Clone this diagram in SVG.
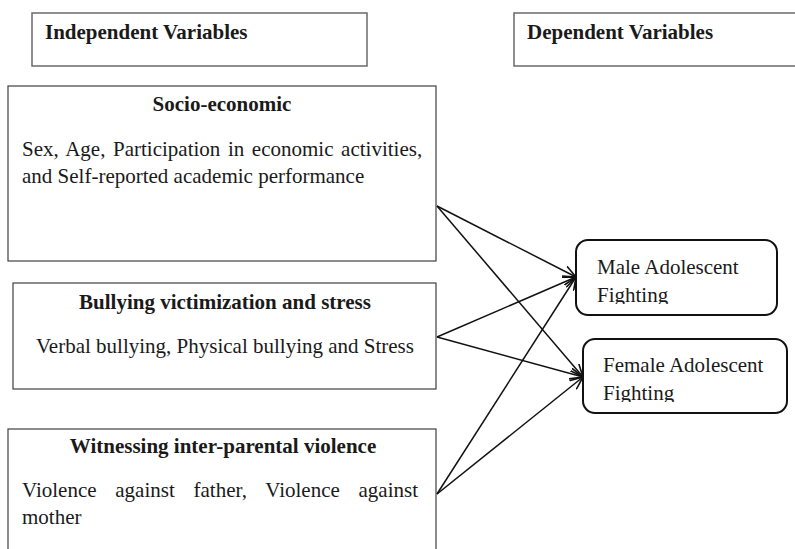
<svg xmlns="http://www.w3.org/2000/svg" width="795" height="549" viewBox="0 0 795 549">
<style>
.t{font-family:"Liberation Serif","Times New Roman",serif;font-size:21px;fill:#1a1a1a}
.b{font-weight:bold}
.box{fill:#fff;stroke:#404040;stroke-width:1.2}
.hdr{fill:#fff;stroke:#6a6a6a;stroke-width:1.5}
.rbox{fill:#fff;stroke:#111;stroke-width:2}
.con{stroke:#111;stroke-width:1.5;fill:none;marker-end:url(#arr)}
</style>
<defs>
<marker id="arr" viewBox="0 0 14 12" refX="13" refY="6" markerWidth="14" markerHeight="12" markerUnits="userSpaceOnUse" orient="auto">
<path d="M0,0.5 L13,6 L0,11.5" fill="none" stroke="#111" stroke-width="1.6"/>
</marker>
<clipPath id="cm"><rect x="576" y="240" width="201" height="64"/></clipPath>
<clipPath id="cf"><rect x="583" y="339" width="204" height="63"/></clipPath>
</defs>
<rect width="795" height="549" fill="#fff"/>
<g id="hdr-independent">
<rect class="hdr" x="32" y="13" width="335" height="53"/>
<text class="t b" x="45" y="39">Independent Variables</text>
</g>
<g id="hdr-dependent">
<rect class="hdr" x="514" y="13" width="290" height="53"/>
<text class="t b" x="527" y="39">Dependent Variables</text>
</g>
<g id="socio">
<rect class="box" x="8" y="86" width="428" height="175"/>
<text class="t b" x="222" y="111" text-anchor="middle">Socio-economic</text>
<text class="t" x="22" y="156" word-spacing="2.35">Sex, Age, Participation in economic activities,</text>
<text class="t" x="22" y="183">and Self-reported academic performance</text>
</g>
<g id="bullying">
<rect class="box" x="13" y="283" width="423" height="106"/>
<text class="t b" x="225" y="309" text-anchor="middle">Bullying victimization and stress</text>
<text class="t" x="225" y="353" text-anchor="middle">Verbal bullying, Physical bullying and Stress</text>
</g>
<g id="witness">
<rect class="box" x="8" y="429" width="428" height="140"/>
<text class="t b" x="223" y="453" text-anchor="middle">Witnessing inter-parental violence</text>
<text class="t" x="22" y="497" word-spacing="13.5">Violence against father, Violence against</text>
<text class="t" x="22" y="524">mother</text>
</g>
<g id="male">
<rect class="rbox" x="576" y="240" width="201" height="75" rx="12"/>
<g clip-path="url(#cm)">
<text class="t" x="597" y="274">Male Adolescent</text>
<text class="t" x="597" y="302">Fighting</text>
</g>
</g>
<g id="female">
<rect class="rbox" x="583" y="339" width="204" height="74" rx="12"/>
<g clip-path="url(#cf)">
<text class="t" x="603" y="372">Female Adolescent</text>
<text class="t" x="603" y="400">Fighting</text>
</g>
</g>
<g id="connectors">
<line class="con" x1="437" y1="206" x2="576" y2="277"/>
<line class="con" x1="437" y1="206" x2="583" y2="377"/>
<line class="con" x1="437" y1="337" x2="576" y2="277"/>
<line class="con" x1="437" y1="337" x2="583" y2="377"/>
<line class="con" x1="437" y1="494" x2="576" y2="277"/>
<line class="con" x1="437" y1="494" x2="583" y2="377"/>
</g>
</svg>
